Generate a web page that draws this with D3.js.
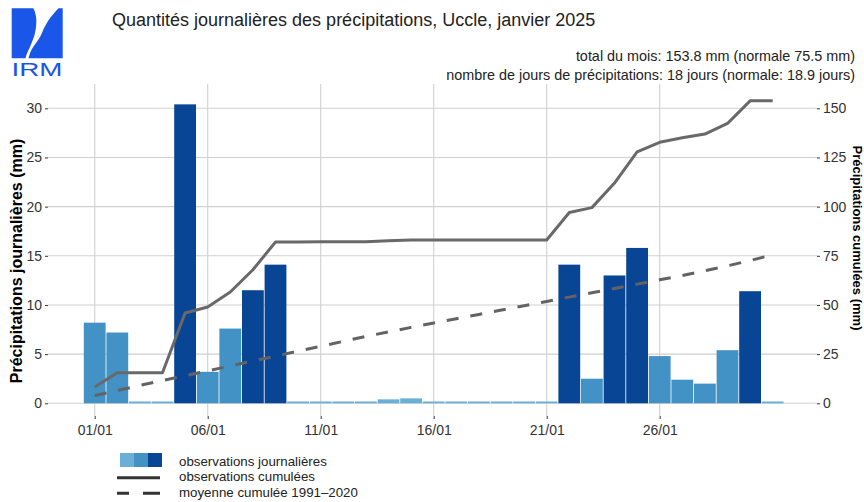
<!DOCTYPE html>
<html>
<head>
<meta charset="utf-8">
<script src="https://cdn.jsdelivr.net/npm/d3@7"></script>
<style>
  html, body { margin: 0; padding: 0; background: #fff; }
  svg { display: block; font-family: "Liberation Sans", Arial, Helvetica, sans-serif; }
</style>
</head>
<body>
<svg id="chart" width="864" height="502"></svg>
<script>
// ---------------- DATA ----------------
const days = [1,2,3,4,5,6,7,8,9,10,11,12,13,14,15,16,17,18,19,20,21,22,23,24,25,26,27,28,29,30,31];
const dailyValues = [8.2, 7.2, 0.1, 0.1, 30.4, 3.2, 7.6, 11.5, 14.1, 0.1, 0.1, 0.0, 0.1, 0.4, 0.5,
                     0.0, 0.0, 0.0, 0.0, 0.0, 0.0, 14.1, 2.5, 13.0, 15.8, 4.8, 2.4, 2.0, 5.4, 11.4, 0.1];
const cumulObserved = [8.3, 15.5, 15.5, 15.5, 45.9, 49.0, 56.6, 67.9, 82.0, 82.0, 82.1, 82.1, 82.2, 82.6, 83.0,
                       83.0, 83.0, 83.0, 83.0, 83.0, 83.0, 97.0, 99.5, 112.0, 127.9, 132.7, 135.0, 136.9, 142.3, 153.8, 153.8];
const cumulNormal = [3.9, 6.5, 9.1, 11.6, 14.0, 16.5, 19.0, 21.5, 24.0, 26.5, 29.0, 31.5, 34.0, 36.3, 38.6,
                     40.8, 43.0, 45.2, 47.4, 49.6, 51.8, 54.0, 56.2, 58.4, 60.6, 62.8, 65.0, 67.4, 69.9, 72.6, 75.5];
const xTickDays = [1, 6, 11, 16, 21, 26];
const xTickLabels = ["01/01", "06/01", "11/01", "16/01", "21/01", "26/01"];
const leftTicks = [0, 5, 10, 15, 20, 25, 30];
const rightTicks = [0, 25, 50, 75, 100, 125, 150];
const colorClasses = ["#6baed6", "#4292c6", "#084594"];
const classBreaks = [1, 10];
const titleText = "Quantités journalières des précipitations, Uccle, janvier 2025";
const subtitle1 = "total du mois: 153.8 mm (normale 75.5 mm)";
const subtitle2 = "nombre de jours de précipitations: 18 jours (normale: 18.9 jours)";
const legendLabels = ["observations journalières", "observations cumulées", "moyenne cumulée 1991\u20132020"];

// ---------------- LAYOUT ----------------
const svg = d3.select("#chart");
const panel = { left: 48, right: 817, top: 84, bottom: 416 };

const x = d3.scaleLinear().domain([1, 31]).range([94.7, 772.7]);
const yL = d3.scaleLinear().domain([0, 30]).range([403.3, 108.3]);
const yR = d3.scaleLinear().domain([0, 150]).range([403.3, 108.3]);
const dayW = x(2) - x(1);
const colorOf = d3.scaleThreshold().domain(classBreaks).range(colorClasses);
const minH = 1.8;

// grid
const grid = svg.append("g");
grid.selectAll("line.h").data(leftTicks).join("line")
  .attr("x1", panel.left).attr("x2", panel.right)
  .attr("y1", d => yL(d)).attr("y2", d => yL(d))
  .attr("stroke", "#d0d0d0").attr("stroke-width", 1.1);
grid.selectAll("line.v").data(xTickDays).join("line")
  .attr("x1", d => x(d)).attr("x2", d => x(d))
  .attr("y1", panel.top).attr("y2", panel.bottom)
  .attr("stroke", "#d0d0d0").attr("stroke-width", 1.1);

// bars
svg.append("g").selectAll("rect").data(days).join("rect")
  .attr("x", (d) => x(d) - dayW / 2 + 0.4)
  .attr("width", dayW - 0.8)
  .attr("y", (d, i) => Math.min(yL(dailyValues[i]), yL(0) - minH))
  .attr("height", (d, i) => Math.max(yL(0) - yL(dailyValues[i]), minH))
  .attr("fill", (d, i) => colorOf(dailyValues[i]));

// lines
const lineObs = d3.line().x((d) => x(d)).y((d, i) => yR(cumulObserved[i]));
const lineNorm = d3.line().x((d) => x(d)).y((d, i) => yR(cumulNormal[i]));
svg.append("path").datum(days).attr("d", lineNorm)
  .attr("fill", "none").attr("stroke", "#636363").attr("stroke-width", 3)
  .attr("stroke-dasharray", "12,12");
svg.append("path").datum(days).attr("d", lineObs)
  .attr("fill", "none").attr("stroke", "#696969").attr("stroke-width", 3)
  .attr("stroke-linejoin", "round");

// axes
const axL = d3.axisLeft(yL).tickValues(leftTicks).tickSize(3).tickPadding(3);
const axR = d3.axisRight(yR).tickValues(rightTicks).tickSize(3).tickPadding(3);
const axB = d3.axisBottom(x).tickValues(xTickDays).tickFormat((d, i) => xTickLabels[i]).tickSize(3).tickPadding(6);

function styleAxis(g) {
  g.select(".domain").remove();
  g.selectAll(".tick line").attr("stroke", "#333");
  g.selectAll(".tick text").attr("fill", "#333").style("font-size", "14px")
   .style("font-family", '"Liberation Sans", Arial, sans-serif');
}
svg.append("g").attr("transform", `translate(${panel.left},0)`).call(axL).call(styleAxis);
svg.append("g").attr("transform", `translate(${panel.right},0)`).call(axR).call(styleAxis);
svg.append("g").attr("transform", `translate(0,${panel.bottom})`).call(axB).call(styleAxis);

// axis titles
svg.append("text").attr("transform", "translate(22,261) rotate(-90)")
  .attr("text-anchor", "middle").style("font-size", "16px").style("font-weight", "bold")
  .attr("fill", "#000").text("Précipitations journalières (mm)");
svg.append("text").attr("transform", "translate(853,238) rotate(90)")
  .attr("text-anchor", "middle").style("font-size", "13px").style("font-weight", "bold")
  .attr("fill", "#000").text("Précipitations cumulées (mm)");

// title / subtitles
svg.append("text").attr("x", 112).attr("y", 26).style("font-size", "18px").attr("fill", "#222").text(titleText);
svg.append("text").attr("x", 855).attr("y", 60.5).attr("text-anchor", "end").style("font-size", "14.4px").attr("fill", "#222").text(subtitle1);
svg.append("text").attr("x", 855).attr("y", 80).attr("text-anchor", "end").style("font-size", "14.4px").attr("fill", "#222").text(subtitle2);

// logo
const logoBlue = "#1a56e8";
const logo = svg.append("g");
logo.append("path").attr("fill", logoBlue)
  .attr("d", "M11.7,8.3 L33.3,8.3 C36,13 37,20 36,27 C35,36 32,42 30,47 C28,51 26,55 25.5,58.3 L11.7,58.3 Z");
logo.append("path").attr("fill", logoBlue)
  .attr("d", "M62.7,8.3 L62.7,58.3 L28.5,58.3 C29.5,54 31,50 33.5,46.5 C36.5,42 40,38 42,33 C45,25 50,17 58.5,8.3 Z");
logo.append("text").attr("x", 11.5).attr("y", 76).attr("fill", logoBlue)
  .style("font-size", "18.5px").attr("textLength", 51).attr("lengthAdjust", "spacingAndGlyphs").text("IRM");

// legend
const lg = svg.append("g");
lg.selectAll("rect").data(colorClasses).join("rect")
  .attr("x", (d, i) => 120 + i * 14).attr("y", 453).attr("width", 14).attr("height", 14)
  .attr("fill", d => d);
lg.append("line").attr("x1", 117).attr("x2", 160).attr("y1", 477.7).attr("y2", 477.7)
  .attr("stroke", "#333").attr("stroke-width", 3);
lg.append("line").attr("x1", 117).attr("x2", 160).attr("y1", 493.3).attr("y2", 493.3)
  .attr("stroke", "#333").attr("stroke-width", 3).attr("stroke-dasharray", "12,14,20");
lg.selectAll("text").data(legendLabels).join("text")
  .attr("x", 179).attr("y", (d, i) => 465.5 + i * 15.8)
  .style("font-size", "13.3px").attr("fill", "#222").text(d => d);
</script>
</body>
</html>
